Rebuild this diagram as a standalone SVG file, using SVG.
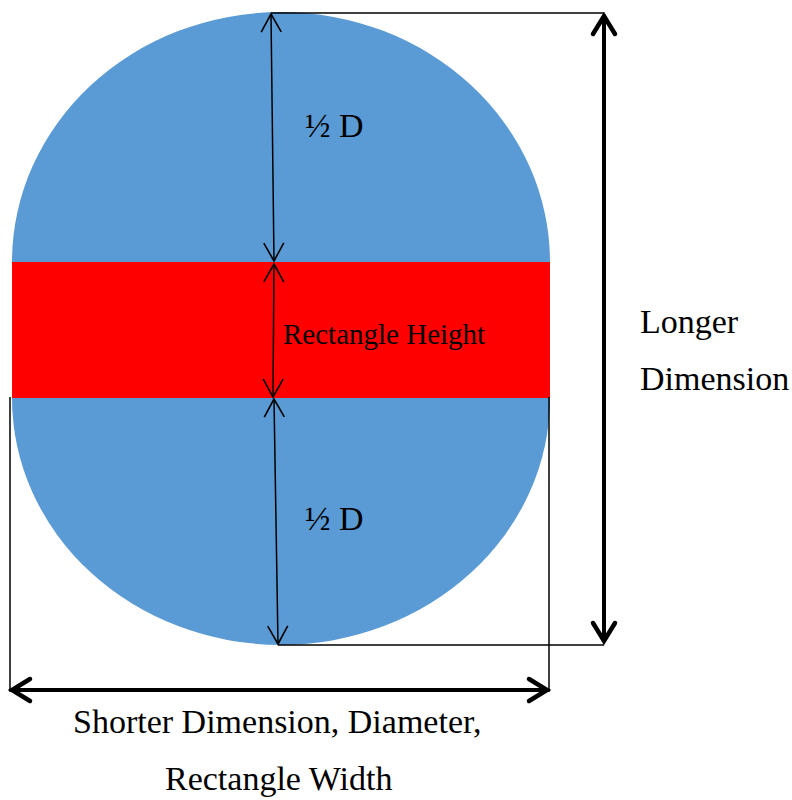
<svg xmlns="http://www.w3.org/2000/svg" width="792" height="800" viewBox="0 0 792 800">
<style>
.t{font-family:"Liberation Serif","Times New Roman",serif;fill:#000}
.thin{stroke:#000;stroke-width:1.5;fill:none}
.thick{stroke:#000;stroke-width:4;fill:none}
.ln{stroke:#000;stroke-width:1.5;fill:none}
</style>
<defs>
<marker id="ah" markerWidth="26" markerHeight="26" viewBox="-21 -13 23 26" refX="0" refY="0" orient="auto-start-reverse" markerUnits="userSpaceOnUse">
<path d="M-18,-10 L0,0 L-18,10" fill="none" stroke="#000" stroke-width="1.6"/>
</marker>
<marker id="ahk" markerWidth="30" markerHeight="30" viewBox="-22 -15 26 30" refX="0" refY="0" orient="auto-start-reverse" markerUnits="userSpaceOnUse">
<path d="M-18,-11 L0,0 L-18,11" fill="none" stroke="#000" stroke-width="4.5" stroke-linecap="round"/>
</marker>
</defs>
<g id="shape">
<path d="M12,262 A269,250 0 0 1 550,262 Z" fill="#5B9BD5"/>
<path d="M12,398 A269,247 0 0 0 550,398 Z" fill="#5B9BD5"/>
<rect x="12" y="262" width="538" height="136" fill="#FF0000"/>
</g>
<g id="connectors">
<line class="ln" x1="271" y1="13" x2="604" y2="13"/>
<line class="ln" x1="278" y1="645" x2="604" y2="645"/>
<line class="ln" x1="10" y1="397" x2="10" y2="692"/>
<line class="ln" x1="549" y1="397" x2="549" y2="692"/>
<line class="thin" x1="271" y1="14" x2="274" y2="261" marker-start="url(#ah)" marker-end="url(#ah)"/>
<line class="thin" x1="274" y1="264" x2="273" y2="397" marker-start="url(#ah)" marker-end="url(#ah)"/>
<line class="thin" x1="274" y1="399" x2="278" y2="644" marker-start="url(#ah)" marker-end="url(#ah)"/>
<line class="thick" x1="604" y1="16" x2="604" y2="641" marker-start="url(#ahk)" marker-end="url(#ahk)"/>
<line class="thick" x1="12" y1="690" x2="547" y2="690" marker-start="url(#ahk)" marker-end="url(#ahk)"/>
</g>
<g id="labels">
<text class="t" x="305" y="137" font-size="34">½ D</text>
<text class="t" x="305" y="530" font-size="34">½ D</text>
<text class="t" x="283" y="344" font-size="29">Rectangle Height</text>
<text class="t" x="640" y="333" font-size="34">Longer</text>
<text class="t" x="640" y="390" font-size="34">Dimension</text>
<text class="t" x="73" y="733" font-size="34">Shorter Dimension, Diameter,</text>
<text class="t" x="165" y="790" font-size="34">Rectangle Width</text>
</g>
</svg>
